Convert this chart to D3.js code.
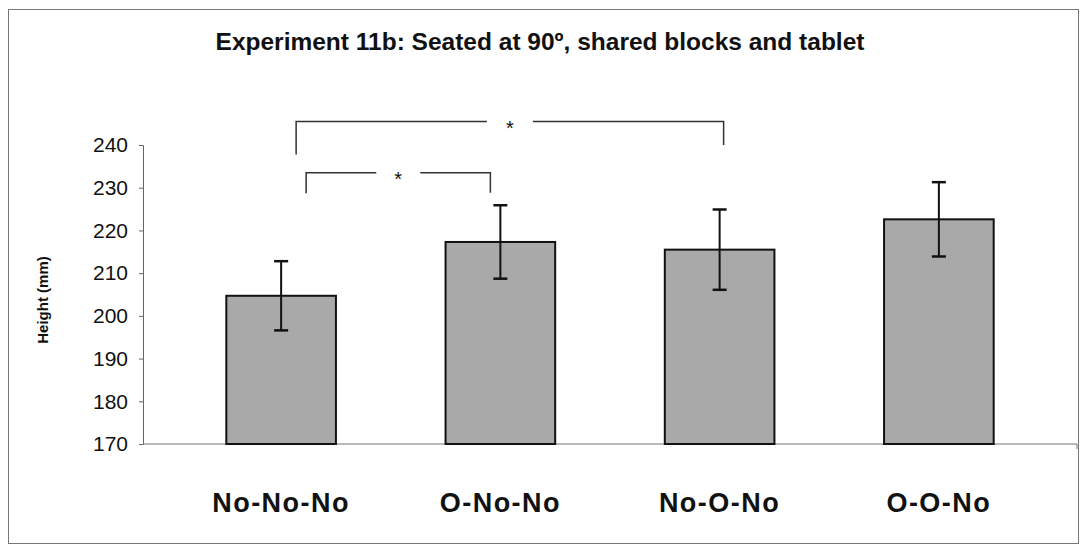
<!DOCTYPE html>
<html>
<head>
<meta charset="utf-8">
<script src="https://cdn.jsdelivr.net/npm/d3@7"></script>
<style>
  body { margin: 0; background: #fff; }
  text { font-family: "Liberation Sans", Arial, sans-serif; fill: #111; }
</style>
</head>
<body>
<svg width="1081" height="550"></svg>
<script>
var categories = ["No-No-No", "O-No-No", "No-O-No", "O-O-No"];
var means = [204.7, 217.3, 215.5, 222.6];
var errors = [8.1, 8.6, 9.4, 8.7];
var yTicks = [170, 180, 190, 200, 210, 220, 230, 240];
// significance brackets: [from category, to category, level]
var sigFrom = [0, 0];
var sigTo = [1, 2];
var sigLevel = [233.5, 245.5];
var sigDrop = [[228.7, 228.8], [237.8, 240]];
var sigLabel = ["*", "*"];

var svg = d3.select("svg"),
    width = +svg.attr("width"),
    height = +svg.attr("height");

// outer frame
svg.append("rect")
    .attr("x", 8.5).attr("y", 9.5)
    .attr("width", 1070).attr("height", 534)
    .attr("fill", "none")
    .attr("stroke", "#777")
    .attr("stroke-width", 1);

var x = d3.scaleBand()
    .domain(categories)
    .range([143, 1077])
    .paddingInner(0.5)
    .paddingOuter(0.38);

var y = d3.scaleLinear()
    .domain([170, 240])
    .range([444, 145]);

// title
svg.append("text")
    .attr("x", 540)
    .attr("y", 50)
    .attr("text-anchor", "middle")
    .style("font-size", "24.5px")
    .style("font-weight", "bold")
    .text("Experiment 11b: Seated at 90º, shared blocks and tablet");

// y axis
var yAxis = svg.append("g")
    .attr("transform", "translate(143,0)")
    .call(d3.axisLeft(y).tickValues(yTicks).tickSize(4).tickPadding(11));
yAxis.select(".domain").attr("stroke", "#666");
yAxis.selectAll(".tick line").attr("stroke", "#666");
yAxis.selectAll(".tick text")
    .style("font-size", "21px")
    .style("font-family", "'Liberation Sans', Arial, sans-serif")
    .attr("fill", "#222");

svg.append("text")
    .attr("transform", "translate(48,300) rotate(-90)")
    .attr("text-anchor", "middle")
    .style("font-size", "15px")
    .style("font-weight", "bold")
    .text("Height (mm)");

// x axis line
svg.append("line")
    .attr("x1", 143).attr("x2", 1077)
    .attr("y1", y(170)).attr("y2", y(170))
    .attr("stroke", "#777")
    .attr("stroke-width", 1.2);
svg.append("line")
    .attr("x1", 1077).attr("x2", 1077)
    .attr("y1", y(170)).attr("y2", y(170) + 5)
    .attr("stroke", "#777");

// bars
svg.selectAll(".bar")
    .data(categories)
    .enter().append("rect")
      .attr("class", "bar")
      .attr("x", function(d) { return x(d); })
      .attr("y", function(d, i) { return y(means[i]); })
      .attr("width", x.bandwidth())
      .attr("height", function(d, i) { return y(170) - y(means[i]); })
      .attr("fill", "#a9a9a9")
      .attr("stroke", "#111")
      .attr("stroke-width", 2);

// error bars
var eb = svg.selectAll(".err")
    .data(categories)
    .enter().append("g")
      .attr("class", "err")
      .attr("transform", function(d) { return "translate(" + (x(d) + x.bandwidth() / 2) + ",0)"; });

eb.append("line")
    .attr("y1", function(d, i) { return y(means[i] + errors[i]); })
    .attr("y2", function(d, i) { return y(means[i] - errors[i]); })
    .attr("stroke", "#111").attr("stroke-width", 2);
eb.append("line")
    .attr("x1", -7).attr("x2", 7)
    .attr("y1", function(d, i) { return y(means[i] + errors[i]); })
    .attr("y2", function(d, i) { return y(means[i] + errors[i]); })
    .attr("stroke", "#111").attr("stroke-width", 2.5);
eb.append("line")
    .attr("x1", -7).attr("x2", 7)
    .attr("y1", function(d, i) { return y(means[i] - errors[i]); })
    .attr("y2", function(d, i) { return y(means[i] - errors[i]); })
    .attr("stroke", "#111").attr("stroke-width", 2.5);

// significance brackets
var leftShift = [25, 15], rightShift = [-10, 4], gapHalf = [22, 23];
sigFrom.forEach(function(f, k) {
  var x1 = x(categories[f]) + x.bandwidth() / 2 + leftShift[k];
  var x2 = x(categories[sigTo[k]]) + x.bandwidth() / 2 + rightShift[k];
  var yl = y(sigLevel[k]);
  var mid = (x1 + x2) / 2;
  var g = svg.append("g")
      .attr("fill", "none")
      .attr("stroke", "#333")
      .attr("stroke-width", 1.5);
  g.append("path")
      .attr("d", "M" + x1 + "," + y(sigDrop[k][0]) + "V" + yl + "H" + (mid - gapHalf[k]));
  g.append("path")
      .attr("d", "M" + (mid + gapHalf[k]) + "," + yl + "H" + x2 + "V" + y(sigDrop[k][1]));
  svg.append("text")
      .attr("x", mid)
      .attr("y", yl + 13)
      .attr("text-anchor", "middle")
      .style("font-size", "20px")
      .text(sigLabel[k]);
});

// category labels
svg.selectAll(".cat")
    .data(categories)
    .enter().append("text")
      .attr("class", "cat")
      .attr("x", function(d) { return x(d) + x.bandwidth() / 2; })
      .attr("y", 512)
      .attr("text-anchor", "middle")
      .style("font-size", "27px")
      .style("font-weight", "bold")
      .style("letter-spacing", "1.5px")
      .text(function(d) { return d; });
</script>
</body>
</html>
